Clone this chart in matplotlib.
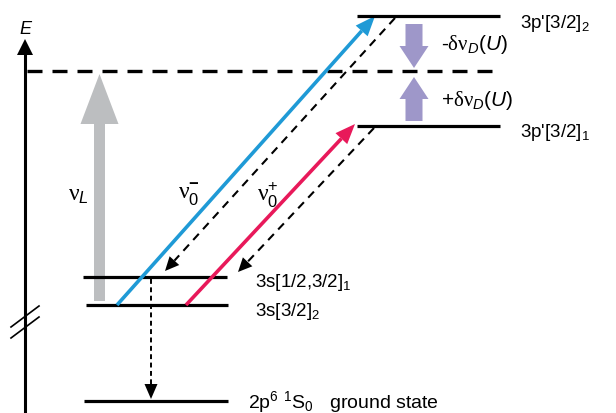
import matplotlib
matplotlib.use('Agg')
import matplotlib.pyplot as plt
import numpy as np
from matplotlib.patches import Polygon

plt.rcParams['font.family'] = ['Liberation Sans', 'DejaVu Sans']
plt.rcParams['mathtext.fontset'] = 'custom'
plt.rcParams['mathtext.rm'] = 'Liberation Serif'
plt.rcParams['mathtext.sf'] = 'Liberation Sans'
plt.rcParams['mathtext.it'] = 'Liberation Sans:italic'
plt.rcParams['mathtext.bf'] = 'Liberation Sans:bold'

# energy levels (picture y, top = high energy)
lower_y = [278, 306, 402]
lower_labels = [r"3s[1/2,3/2]$_{\mathsf{1}}$", r"3s[3/2]$_{\mathsf{2}}$",
                r"2p$^{\mathsf{6}}$ $^{\mathsf{1}}$S$_{\mathsf{0}}$   ground state"]
lower_x = [(83, 227), (86, 228), (84, 228)]
upper_y = [17, 127]
upper_labels = [r"3p'[3/2]$_{\mathsf{2}}$", r"3p'[3/2]$_{\mathsf{1}}$"]
upper_x = (357, 500)
laser_y = 72

# transitions: (x0, y0, x1, y1)
blue_tr = (117, 306, 375, 17)
red_tr = (186, 306, 355, 125)
decay_tr = [(395, 19, 165, 272), (374, 129, 238, 273)]
ground_decay = (151, 280, 151, 400)

BLUE = '#1f9ad6'
RED = '#e8195a'
PURPLE = '#9e97c9'
GREY = '#bcbec0'


def head(ax, x0, y0, x1, y1, length, width, color='black'):
    d = np.array([x1 - x0, y1 - y0], float)
    u = d / np.hypot(*d)
    p = np.array([-u[1], u[0]])
    tip = np.array([x1, y1])
    base = tip - u * length
    ax.add_patch(Polygon([tip, base + p * width / 2, base - p * width / 2],
                         closed=True, color=color, lw=0))
    return base


def dashed_arrow(ax, tr, dashes, lw, length, width):
    x0, y0, x1, y1 = tr
    base = head(ax, x0, y0, x1, y1, length, width)
    ax.plot([x0, base[0]], [y0, base[1]], color='black', lw=lw, dashes=dashes,
            solid_capstyle='butt', dash_capstyle='butt')


def main():
    fig = plt.figure(figsize=(6.16, 4.14), dpi=100)
    ax = fig.add_axes([0, 0, 1, 1])
    ax.set_xlim(0, 616)
    ax.set_ylim(414, 0)
    ax.axis('off')

    # energy axis
    ax.plot([25, 25], [414, 52], color='black', lw=2.2, solid_capstyle='butt')
    head(ax, 25, 100, 25, 40, 16, 16)
    ax.text(25, 30, 'E', style='italic', fontsize=13, ha='center', va='center')
    ax.plot([11, 39], [328, 307], color='black', lw=1.2)
    ax.plot([11, 39], [339, 318], color='black', lw=1.2)

    # laser line
    ax.plot([27, 500], [laser_y, laser_y], color='black', lw=2.4, dashes=(4.5, 3.0),
            dash_capstyle='butt')

    for y, (xa, xb) in zip(lower_y, lower_x):
        ax.plot([xa, xb], [y, y], color='black', lw=2.3, solid_capstyle='butt')
    ax.text(255, 283, lower_labels[0], fontsize=13.5, va='center')
    ax.text(255, 312, lower_labels[1], fontsize=13.5, va='center')
    ax.text(248, 402, lower_labels[2], fontsize=14, va='center')

    for y, lab in zip(upper_y, upper_labels):
        ax.plot(upper_x, [y, y], color='black', lw=2.3, solid_capstyle='butt')
        ax.text(520, y + 6, lab, fontsize=13.5, va='center')

    # laser arrow
    ax.arrow(99.5, 302, 0, -227, width=11, head_width=38, head_length=50,
             length_includes_head=True, color=GREY, lw=0)
    ax.text(68, 195, r'$\mathrm{\nu}_{\mathit{L}}$', fontsize=17, va='center')

    # light shift arrows
    ax.arrow(414, 25, 0, 44, width=17, head_width=29, head_length=22,
             length_includes_head=True, color=PURPLE, lw=0)
    ax.arrow(414, 122, 0, -44, width=17, head_width=29, head_length=22,
             length_includes_head=True, color=PURPLE, lw=0)
    ax.text(441, 44, r'-$\mathrm{\delta\nu}_{\mathit{D}}\mathsf{(}\mathit{U}\mathsf{)}$',
            fontsize=15, va='center')
    ax.text(441, 101, r'$\mathsf{+}\mathrm{\delta\nu}_{\mathit{D}}\mathsf{(}\mathit{U}\mathsf{)}$',
            fontsize=15, va='center')

    # probe transitions
    for tr, c in [(blue_tr, BLUE), (red_tr, RED)]:
        x0, y0, x1, y1 = tr
        base = head(ax, x0, y0, x1, y1, 20, 16, color=c)
        ax.plot([x0, base[0]], [y0, base[1]], color=c, lw=2.6, solid_capstyle='butt')
    ax.text(178, 195, r'$\mathrm{\nu}_{\mathsf{0}}^{\mathbf{-}}$', fontsize=17, va='center')
    ax.text(257, 195, r'$\mathrm{\nu}_{\mathsf{0}}^{\mathsf{+}}$', fontsize=17, va='center')

    for tr in decay_tr:
        dashed_arrow(ax, tr, (4, 3), 1.5, 14, 13)
    dashed_arrow(ax, ground_decay, (2.5, 1.8), 1.4, 15, 13)

    fig.savefig('out.png', dpi=100)


if __name__ == '__main__':
    main()
